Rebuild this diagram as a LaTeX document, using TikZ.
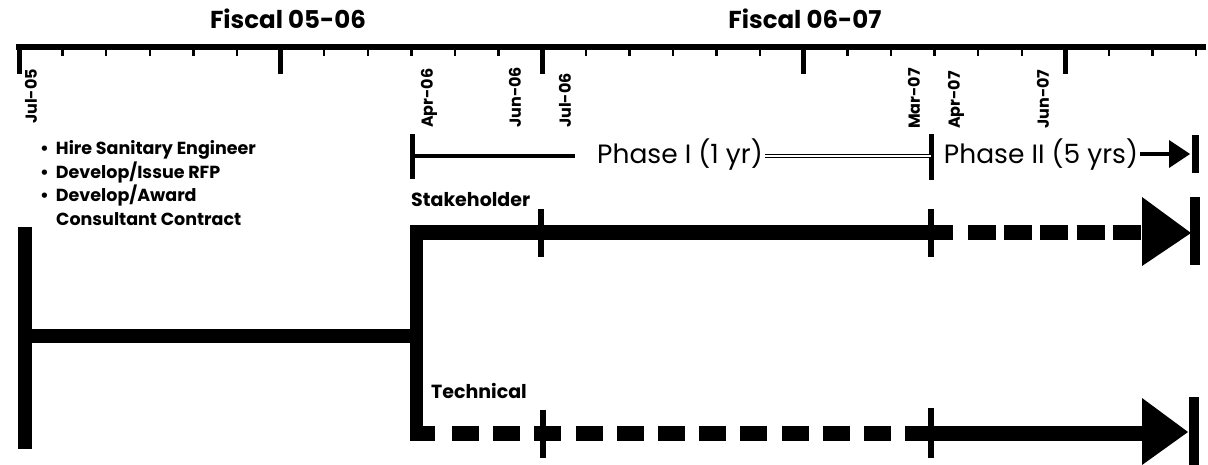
\documentclass[tikz,border=0pt]{standalone}
\usepackage{fontspec}
\setmainfont{Poppins}
\newcommand{\fsz}[1]{\fontsize{#1}{#1}\selectfont}
\begin{document}
\begin{tikzpicture}[x=1pt,y=-1pt,
  axisline/.style={line width=6pt},
  majortick/.style={line width=5pt},
  minortick/.style={line width=2.5pt},
  datelbl/.style={rotate=90,anchor=west,inner sep=0pt,font=\fsz{16}\bfseries},
  title/.style={inner sep=0pt,font=\fsz{24.5}\bfseries},
  phasetxt/.style={inner sep=0pt,font=\fsz{26.5}},
  bullettxt/.style={inner sep=0pt,anchor=west,font=\fsz{17.5}\bfseries},
  tracktxt/.style={inner sep=0pt,anchor=west,font=\fsz{19}\bfseries},
  thick line/.style={line width=15pt,line cap=butt},
  phaseline/.style={line width=4pt},
  crosstick/.style={line width=6pt},
  bar/.style={line width=10pt},
  dashes/.style={line width=15pt,dash pattern=on 27pt off 14.2pt},
  sdashes/.style={line width=15pt,dash pattern=on 28pt off 8.2pt},
]
\useasboundingbox (0,0) rectangle (1208,465);

% ---- time axis ----
\coordinate (axL) at (16,47);
\coordinate (axR) at (1206,47);
\draw[axisline] (axL) -- (axR);
\foreach \i in {0,...,27}{
  \pgfmathsetmacro{\xx}{19+43.6*\i}
  \pgfmathtruncatemacro{\m}{mod(\i,6)}
  \ifnum\m=0
    \draw[majortick] (\xx,45) -- (\xx,74);
  \else
    \draw[minortick] (\xx,45) -- (\xx,56);
  \fi
}

\node[title] (fy1) at (288,19) {Fiscal 05-06};
\node[title] (fy2) at (805,19) {Fiscal 06-07};

\node[datelbl] (d1) at (31,124) {Jul-05};
\node[datelbl] (d2) at (429,128) {Apr-06};
\node[datelbl] (d3) at (515,128) {Jun-06};
\node[datelbl] (d4) at (565,128) {Jul-06};
\node[datelbl] (d5) at (914,129) {Mar-07};
\node[datelbl] (d6) at (956,129) {Apr-07};
\node[datelbl] (d7) at (1043,129) {Jun-07};

% ---- bullets ----
\node[bullettxt] (b1) at (40,150) {•\hspace{7pt}Hire Sanitary Engineer};
\node[bullettxt] (b2) at (40,173) {•\hspace{7pt}Develop/Issue RFP};
\node[bullettxt] (b3) at (40,196) {•\hspace{7pt}Develop/Award};
\node[bullettxt] (b4) at (56,219) {Consultant Contract};

% ---- phase row ----
\coordinate (p1a) at (412,134);
\coordinate (p1b) at (412,179);
\draw[crosstick,line width=5pt] (p1a) -- (p1b);
\coordinate (p1s) at (412,156);
\node[phasetxt] (ph1) at (680,155) {Phase I (1 yr)};
\draw[phaseline] (p1s) -- (575,156);
\coordinate (p2a) at (931,134);
\coordinate (p2b) at (931,180);
\coordinate (p2s) at (931,156);
\draw[crosstick,line width=5pt] (p2a) -- (p2b);
\draw[double,line width=1.2pt,double distance=1.6pt] (ph1.east) ++(2,1) coordinate (ph1e) (ph1e) -- (p2s);
\node[phasetxt] (ph2) at (1041,155) {Phase II (5 yrs)};
\coordinate (p3s) at (1170,154);
\draw[phaseline] (ph2.east) ++(2,-1) coordinate (ph2e) (ph2e) -- (p3s);
\fill (1169,140) -- (1190,154) -- (1169,168) -- cycle;
\coordinate (pbarA) at (1195,135);
\coordinate (pbarB) at (1195,173);
\draw[line width=7pt] (pbarA) -- (pbarB);

% ---- left structure ----
\coordinate (lt) at (25,227);
\coordinate (lb) at (25,449);
\coordinate (lm) at (25,336);
\coordinate (bm) at (416,336);
\draw[line width=14pt] (lt) -- (lb);
\draw[line width=14pt] (lm) -- (bm);

% ---- branch ----
\coordinate (bt) at (416,233);
\coordinate (bb) at (416,433);
\draw[line width=13pt] (416,225.5) -- (416,440.5);

% ---- stakeholder track ----
\node[tracktxt] (stk) at (411,200) {Stakeholder};
\coordinate (s1) at (953,233);
\draw[thick line] (bt) -- (s1);
\coordinate (s2) at (968,233);
\coordinate (s3) at (1142,233);
\draw[sdashes] (s2) -- (s3);
\fill (1142,197) -- (1191,233) -- (1142,266) -- cycle;
\draw[bar] (1195,197) -- (1195,265);
\draw[crosstick] (541,209) -- (541,257);
\draw[crosstick] (931,209) -- (931,257);

% ---- technical track ----
\node[tracktxt] (tec) at (431,391) {Technical};
\coordinate (t0) at (435,433);
\draw[thick line] (bb) -- (t0);
\coordinate (t1) at (452,433);
\coordinate (t2) at (891,433);
\draw[dashes] (t1) -- (t2);
\coordinate (t3) at (905,433);
\coordinate (t4) at (1143,433);
\draw[thick line] (t3) -- (t4);
\fill (1142,398) -- (1188,432) -- (1142,465) -- cycle;
\draw[bar] (1194,397) -- (1194,465);
\draw[crosstick] (543,410) -- (543,458);
\draw[crosstick] (931,408) -- (931,458);
\end{tikzpicture}
\end{document}
